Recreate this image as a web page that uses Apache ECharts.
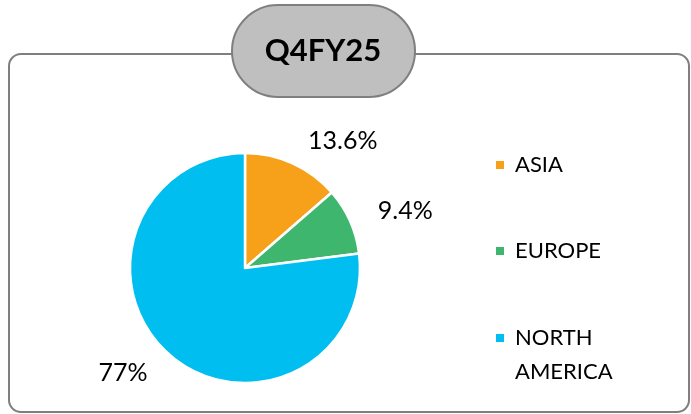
<!DOCTYPE html>
<html>
<head>
<meta charset="utf-8">
<script src="https://cdn.jsdelivr.net/npm/echarts@6/dist/echarts.min.js"></script>
<style>
  html, body { margin: 0; padding: 0; background: #fff; }
  #regionPie { width: 691px; height: 414px; }
</style>
</head>
<body>
<div id="regionPie"></div>
<script>
const periodName = 'Q4FY25'
const regions = ['ASIA', 'EUROPE', 'NORTH AMERICA']
const shares = [13.6, 9.4, 77]

const fontName = 'Lato, "Open Sans", sans-serif'
const legendTops = [148, 234, 287]

const chart = echarts.init(document.getElementById('regionPie'))
const option = {
  color: ['#F7A11A', '#3FB66E', '#00BFF0'],
  title: {
    text: periodName,
    left: 323,
    top: 51,
    textAlign: 'center',
    textVerticalAlign: 'middle',
    padding: 0,
    textStyle: {
      fontFamily: fontName,
      fontWeight: 'bold',
      fontSize: 31,
      color: '#000'
    }
  },
  legend: regions.map((name, i) => ({
    data: [name],
    orient: 'vertical',
    left: 494,
    top: legendTops[i],
    padding: 0,
    icon: 'rect',
    itemWidth: 10,
    itemHeight: 10,
    // two-word names wrap; a blank first line keeps the marker beside the first word
    formatter: n => n.indexOf(' ') >= 0 ? ' \n' + n.replace(' ', '\n') : n,
    textStyle: {
      fontFamily: fontName,
      fontSize: 22,
      lineHeight: 34,
      color: '#000',
      padding: [0, 0, 0, 5]
    }
  })),
  graphic: [
    {
      type: 'rect',
      z: -1,
      shape: { x: 9, y: 54, width: 680, height: 358, r: 12 },
      style: { fill: 'none', stroke: '#7f7f7f', lineWidth: 2 }
    },
    {
      type: 'rect',
      z: 0,
      shape: { x: 232, y: 5, width: 183, height: 92, r: 46 },
      style: { fill: '#bfbfbf', stroke: '#7f7f7f', lineWidth: 2 }
    }
  ],
  series: [
    {
      type: 'pie',
      center: [245, 268],
      radius: 115,
      startAngle: 90,
      clockwise: true,
      avoidLabelOverlap: false,
      z: 3,
      itemStyle: {
        borderColor: '#fff',
        borderWidth: 2.5
      },
      label: {
        show: true,
        position: 'outside',
        formatter: p => p.value + '%',
        fontFamily: fontName,
        fontSize: 25,
        color: '#000'
      },
      labelLine: {
        show: false,
        length: 25,
        length2: 0
      },
      emphasis: { scale: false },
      data: regions.map((name, i) => ({ name: name, value: shares[i] }))
    }
  ]
}
chart.setOption(option)
</script>
</body>
</html>
